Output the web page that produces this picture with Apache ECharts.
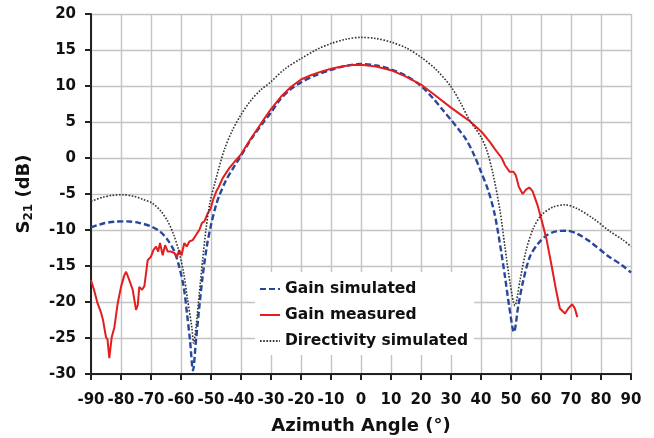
<!DOCTYPE html>
<html>
<head>
<meta charset="utf-8">
<script src="https://cdn.jsdelivr.net/npm/echarts@6/dist/echarts.min.js"></script>
<style>
  html, body { margin: 0; padding: 0; background: #fff; }
  #chart { width: 654px; height: 438px; }
</style>
</head>
<body>
<div id="chart"></div>
<script>
// Simulated gain (dB) versus azimuth angle (deg)
var simAngles = [-90, -86, -82, -78, -74, -70, -67, -64.4, -62.2, -60.6, -59.1, -58, -57, -56, -55, -53.9, -52.8, -51.4, -50, -48.3, -47.2, -45, -42.6, -40, -36.5, -33, -30, -27, -23.3, -20, -15.6, -10, -5, 0, 5, 10, 15, 20, 24.2, 27, 30, 32.5, 35, 37.5, 40, 42.4, 44.5, 46.3, 48, 49.4, 51, 52.4, 54.1, 56.3, 59, 62, 65, 68.5, 72, 76.3, 82, 87, 90];
var simGain = [-9.65, -9.1, -8.85, -8.8, -9.0, -9.5, -10.2, -11.4, -13.0, -15.1, -17.9, -21.6, -25.3, -29.5, -25.3, -20.7, -16.5, -12.3, -9.3, -6.5, -5.2, -3.1, -1.4, 0.3, 2.7, 4.7, 6.3, 8.1, 9.6, 10.5, 11.4, 12.25, 12.8, 13.05, 12.85, 12.3, 11.4, 10.0, 8.2, 6.8, 5.3, 4.0, 2.6, 0.6, -1.9, -4.5, -7.7, -11.9, -16.5, -20.6, -24.2, -20.6, -17.0, -13.7, -11.9, -10.7, -10.2, -10.1, -10.5, -11.6, -13.5, -14.9, -15.9];

// Measured gain (dB)
var measAngles = [-90, -89, -87.8, -86.7, -86, -85, -84.5, -83.9, -83.1, -82.2, -81.1, -80, -78.9, -78.3, -77.2, -76.1, -75, -74.4, -73.9, -73, -72.2, -71.1, -70, -69.2, -68.3, -67.6, -67, -66.1, -65.3, -64.4, -63.3, -62.2, -61.3, -60.6, -59.8, -58.9, -58.1, -57.2, -56.1, -55, -53.9, -53, -52.2, -51.1, -50.1, -49.3, -48.2, -47.5, -46.1, -43.9, -41.7, -40, -36.7, -33.3, -30, -26.7, -23.3, -20, -16.7, -13.3, -10, -6, -3, 0, 5, 10, 15, 20, 25, 30, 33, 36.3, 40.5, 43, 44.7, 46.9, 48, 49.5, 50.8, 51.6, 52.6, 53.9, 55, 56.1, 57.2, 58.8, 60.2, 61.9, 63.6, 65, 66.3, 68, 69.1, 70.4, 71.3, 72.1];
var measGain = [-17, -18.3, -20.2, -21.4, -22.5, -24.9, -25.2, -27.8, -24.9, -23.5, -20.2, -17.9, -16.3, -15.8, -17, -18.3, -21.1, -20.4, -17.9, -18.3, -17.8, -14.2, -13.7, -12.8, -12.3, -13, -11.8, -13.5, -12.1, -13, -13, -13.2, -13.7, -12.8, -13.5, -11.8, -12.3, -11.6, -11.4, -10.7, -10, -9, -8.8, -7.7, -7, -5.8, -4.6, -4.1, -2.8, -1.4, -0.3, 0.5, 2.7, 4.8, 6.8, 8.5, 9.9, 10.9, 11.5, 12, 12.4, 12.75, 12.9, 12.95, 12.7, 12.2, 11.3, 10.2, 8.6, 7.0, 6.1, 5.1, 3.5, 2.2, 1.2, 0, -1, -1.9, -1.9, -2.4, -4.0, -5.0, -4.4, -4.1, -4.6, -6.5, -8.6, -11.4, -15.1, -18.3, -20.9, -21.6, -20.9, -20.3, -20.9, -22.1];

// Simulated directivity (dBi)
var dirAngles = [-90, -86, -83, -79.5, -76, -73, -69.5, -66.7, -64.4, -62.4, -60.8, -59.1, -57.8, -56.4, -55.8, -55, -53.9, -52.8, -51.7, -50.4, -48.6, -45.6, -42.8, -40, -36.7, -33.3, -30, -25.6, -20, -14.6, -10, -5, 0, 5, 10, 15, 20, 25, 30, 33, 36, 40, 42, 44, 46.3, 48, 49.7, 51.3, 53, 55, 57.4, 60.2, 64.1, 68, 71.9, 77.4, 83, 87.4, 90];
var dirValues = [-6.0, -5.45, -5.2, -5.1, -5.3, -5.7, -6.3, -7.4, -8.8, -10.7, -12.8, -16, -19.7, -23.5, -25.7, -23.5, -18.8, -14.2, -10, -6.3, -3.3, 1.1, 3.9, 6.0, 8.0, 9.5, 10.6, 12.3, 13.8, 15.1, 15.9, 16.5, 16.75, 16.6, 16.1, 15.3, 14.0, 12.3, 9.9, 7.8, 5.4, 2.9, 1.0, -2.2, -7.2, -12.4, -17.4, -20.5, -17, -12.9, -9.8, -7.9, -6.8, -6.5, -7, -8.4, -10.2, -11.4, -12.3];

// Axis ranges and titles
var xRange = [-90, 90, 10];
var yRange = [-30, 20, 5];
var xTitle = 'Azimuth Angle (°)';
var seriesNames = ['Gain simulated', 'Gain measured', 'Directivity simulated'];

function pairs(xs, ys) {
  return xs.map(function (x, i) { return [x, ys[i]]; });
}

var FONT = 'DejaVu Sans';
var INK = '#111111';

var chart = echarts.init(document.getElementById('chart'), null, { renderer: 'canvas' });

var axisCommon = {
  type: 'value',
  axisLine: { show: true, onZero: false, lineStyle: { color: '#222', width: 2 } },
  axisTick: { show: true, inside: false, length: 6, lineStyle: { color: '#222', width: 2 } },
  splitLine: { show: true, lineStyle: { color: '#c4c4c4', width: 1.4 } },
  axisLabel: { color: INK, fontFamily: FONT, fontWeight: 'bold', fontSize: 15 }
};

chart.setOption({
  animation: false,
  backgroundColor: '#ffffff',
  grid: { left: 91, right: 23, top: 14, bottom: 64, containLabel: false, outerBoundsMode: 'none' },
  xAxis: Object.assign({}, axisCommon, {
    min: xRange[0], max: xRange[1], interval: xRange[2],
    axisLabel: Object.assign({}, axisCommon.axisLabel, { margin: 19 }),
    name: xTitle,
    nameLocation: 'middle',
    nameGap: 43,
    nameTextStyle: { color: INK, fontFamily: FONT, fontWeight: 'bold', fontSize: 18 }
  }),
  yAxis: Object.assign({}, axisCommon, {
    min: yRange[0], max: yRange[1], interval: yRange[2],
    axisLabel: Object.assign({}, axisCommon.axisLabel, { margin: 15 }),
    name: '{s|S}{sub|21}{s| (dB)}',
    nameLocation: 'middle',
    nameGap: 56,
    nameRotate: 90,
    nameTextStyle: {
      color: INK,
      rich: {
        s: { fontFamily: FONT, fontWeight: 'bold', fontSize: 18, color: INK, lineHeight: 22 },
        sub: { fontFamily: FONT, fontWeight: 'bold', fontSize: 12, color: INK, lineHeight: 22, verticalAlign: 'bottom', padding: [8, 0, 0, 0] }
      }
    }
  }),
  legend: {
    show: true,
    orient: 'vertical',
    left: 255,
    top: 272,
    padding: [8, 6, 5, 4],
    itemGap: 8,
    itemWidth: 20,
    itemHeight: 10,
    backgroundColor: '#ffffff',
    itemStyle: { opacity: 0 },
    textStyle: { color: INK, fontFamily: FONT, fontWeight: 'bold', fontSize: 15.5, lineHeight: 18 },
    data: seriesNames
  },
  series: [
    {
      name: seriesNames[0],
      type: 'line',
      data: pairs(simAngles, simGain),
      showSymbol: false,
      symbol: 'none',
      smooth: 0.3,
      lineStyle: { color: '#27479a', width: 2.4, type: [6, 3] },
      itemStyle: { color: '#27479a' },
      z: 2
    },
    {
      name: seriesNames[1],
      type: 'line',
      data: pairs(measAngles, measGain),
      showSymbol: false,
      symbol: 'none',
      lineStyle: { color: '#e21e1e', width: 2 },
      itemStyle: { color: '#e21e1e' },
      z: 3
    },
    {
      name: seriesNames[2],
      type: 'line',
      data: pairs(dirAngles, dirValues),
      showSymbol: false,
      symbol: 'none',
      smooth: 0.3,
      lineStyle: { color: '#333333', width: 1.6, type: [1.6, 1.6] },
      itemStyle: { color: '#333333' },
      z: 4
    }
  ]
});
</script>
</body>
</html>
